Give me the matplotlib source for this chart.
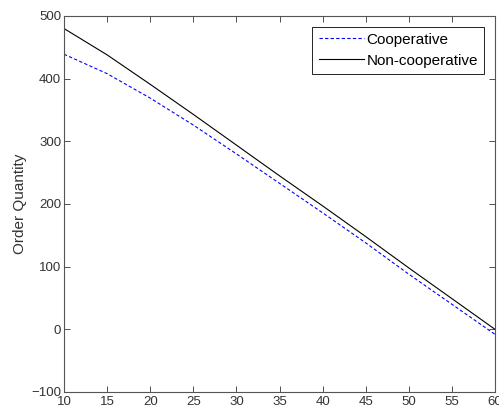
import matplotlib
matplotlib.use("Agg")
import matplotlib.pyplot as plt

x = [10, 15, 20, 25, 30, 35, 40, 45, 50, 55, 60]
cooperative = [439, 408, 369, 326, 280, 233, 186, 138, 88, 40, -8]
non_cooperative = [480, 438, 391, 343, 294, 245, 197, 148, 98, 49, 0]
xticks = [10, 15, 20, 25, 30, 35, 40, 45, 50, 55, 60]
yticks = [-100, 0, 100, 200, 300, 400, 500]

plt.rcParams['font.family'] = ['Liberation Sans', 'DejaVu Sans']

fig = plt.figure(figsize=(4.99, 4.12), dpi=100)
ax = fig.add_axes([64/499, 20/412, (495-64)/499, (392-16)/412])

ax.plot(x, cooperative, color='#0000ff', linestyle=(0, (3, 2)), linewidth=0.8, label='Cooperative')
ax.plot(x, non_cooperative, color='black', linestyle='-', linewidth=0.8, label='Non-cooperative')

ax.set_xlim(10, 60)
ax.set_ylim(-100, 500)
ax.set_xticks(xticks)
ax.set_yticks(yticks)
ax.tick_params(direction='in', length=4, width=0.6, labelsize=9.5, colors='#333333',
               top=True, right=True, pad=2)
ax.tick_params(axis='x', pad=3)
for s in ax.spines.values():
    s.set_linewidth(0.8)
    s.set_color('#555555')
ax.set_ylabel('Order Quantity', fontsize=11, color='#333333', labelpad=3)

leg = ax.legend(loc='upper right', fontsize=11, frameon=True, fancybox=False,
                edgecolor='black', framealpha=1, handlelength=3.0, handletextpad=0.15,
                borderpad=0.4, labelspacing=0.45, borderaxespad=0.7)
leg.get_frame().set_linewidth(0.6)

fig.savefig('out.png', dpi=100)
